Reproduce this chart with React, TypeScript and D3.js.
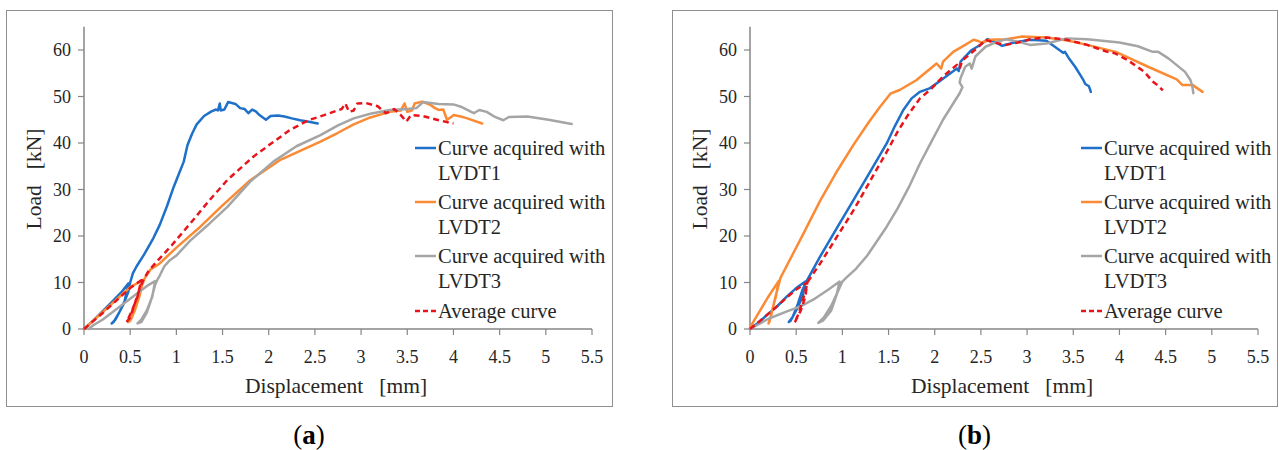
import React from "react";
import * as d3 from "d3";

type Pt = [number, number];

// ---------- Panel (a) data: [displacement mm, load kN] ----------
const aLVDT1: Pt[] = [[0,0],[0.1,1.8],[0.2,3.8],[0.3,5.8],[0.4,7.8],[0.48,9.8],[0.44,6],[0.38,3.5],[0.32,1.5],[0.3,1.2],[0.34,2],[0.42,5],[0.48,8],[0.5,10],[0.53,12],[0.57,13.5],[0.65,16],[0.75,19.5],[0.82,22.4],[0.9,26.5],[0.97,30.5],[1.03,33.5],[1.08,36],[1.12,39.5],[1.17,42],[1.22,44],[1.3,45.8],[1.38,46.8],[1.43,47.2],[1.45,47],[1.47,48.5],[1.48,47],[1.52,47.2],[1.56,48.8],[1.64,48.4],[1.69,47.5],[1.74,47.3],[1.78,46.4],[1.82,47.2],[1.86,46.8],[1.9,46],[1.97,45],[2.02,45.8],[2.1,45.9],[2.17,45.7],[2.25,45.3],[2.34,44.9],[2.45,44.5],[2.53,44.2]];
const aLVDT2: Pt[] = [[0,0],[0.1,1.8],[0.2,3.6],[0.3,5.4],[0.4,7.2],[0.5,9],[0.64,10.5],[0.6,7],[0.55,4],[0.5,1.8],[0.48,1.5],[0.52,2.5],[0.58,6],[0.63,9.5],[0.66,11],[0.72,12.8],[0.82,14.1],[1.0,17.5],[1.26,22],[1.5,26.6],[1.8,32],[2.12,36.3],[2.56,40.3],[2.75,42.2],[2.92,44],[3.1,45.5],[3.31,46.7],[3.43,47],[3.47,48.5],[3.5,46.7],[3.55,47],[3.58,48.5],[3.66,48.9],[3.75,48.2],[3.8,47.5],[3.84,47.1],[3.89,47.2],[3.93,45],[3.97,45.5],[4.0,46],[4.08,45.7],[4.15,45.3],[4.31,44.2]];
const aLVDT3: Pt[] = [[0.05,0],[0.1,0.8],[0.2,2],[0.3,3.5],[0.4,5],[0.5,6.5],[0.6,8],[0.7,9.5],[0.77,10.3],[0.74,7],[0.68,4],[0.62,2],[0.58,1.2],[0.62,1.5],[0.68,3.5],[0.73,6.5],[0.77,9.5],[0.8,10.8],[0.82,11.5],[0.87,13.5],[0.93,14.8],[1.0,15.8],[1.15,19],[1.36,22.7],[1.55,26.2],[1.8,31.7],[2.05,36],[2.3,39.3],[2.56,41.7],[2.75,43.8],[2.92,45.3],[3.1,46.3],[3.31,47.1],[3.5,47.3],[3.6,47.5],[3.67,48.8],[3.75,48.6],[3.84,48.4],[4.0,48.3],[4.08,47.8],[4.15,47.1],[4.22,46.4],[4.28,47.1],[4.36,46.7],[4.45,45.6],[4.54,44.9],[4.6,45.6],[4.8,45.7],[5.03,45],[5.28,44.1]];
const aAverage: Pt[] = [[0,0],[0.1,1.7],[0.2,3.4],[0.3,5.2],[0.4,7],[0.5,8.8],[0.62,10.5],[0.58,7],[0.52,4],[0.47,1.8],[0.46,1.5],[0.5,2.5],[0.55,5.5],[0.6,8.5],[0.64,10.5],[0.7,12.5],[0.82,15.2],[0.95,18],[1.18,23.4],[1.35,27.5],[1.55,32],[1.83,37],[2.0,39.5],[2.23,42.8],[2.43,44.9],[2.6,46],[2.7,46.7],[2.79,47.3],[2.83,48.5],[2.87,46.7],[2.92,47],[2.96,48.5],[3.05,48.6],[3.18,47.9],[3.27,46.4],[3.36,47.3],[3.43,46],[3.49,44.6],[3.54,46],[3.67,45.8],[3.84,44.9],[4.0,44.2]];

// ---------- Panel (b) data ----------
const bLVDT1: Pt[] = [[0,0],[0.1,1.5],[0.2,3.3],[0.3,5],[0.4,7],[0.5,8.8],[0.6,10.2],[0.57,7],[0.5,4],[0.44,1.8],[0.42,1.5],[0.46,2.5],[0.52,5.5],[0.57,8.5],[0.61,10.2],[0.76,15.6],[0.94,21.7],[1.12,27.7],[1.3,33.8],[1.48,39.9],[1.57,43.7],[1.66,47.1],[1.75,49.6],[1.84,51],[1.95,51.8],[2.1,54],[2.24,56],[2.26,55.5],[2.28,57.5],[2.33,58.6],[2.4,60],[2.46,60.7],[2.52,61.5],[2.57,62.3],[2.62,62],[2.68,61.4],[2.73,60.9],[2.8,61.3],[2.86,61.6],[3.03,62.2],[3.21,62],[3.3,60.7],[3.39,59.4],[3.41,59.6],[3.46,58],[3.52,56.4],[3.58,54.5],[3.61,53.5],[3.63,52.7],[3.67,52.2],[3.69,51]];
const bLVDT2: Pt[] = [[0,0.3],[0.05,2],[0.11,4],[0.2,7],[0.31,10.3],[0.28,7],[0.24,4],[0.21,1.5],[0.2,1.2],[0.23,3],[0.27,6.5],[0.31,9.5],[0.33,11],[0.45,15.6],[0.57,20.2],[0.76,27.6],[0.95,34.2],[1.12,39.6],[1.28,44.3],[1.4,47.6],[1.52,50.6],[1.62,51.4],[1.8,53.5],[2.02,57.1],[2.07,56],[2.09,57.5],[2.2,59.6],[2.33,61.1],[2.42,62.2],[2.46,62],[2.51,61.6],[2.6,62.2],[2.77,62.3],[2.95,62.9],[3.21,62.7],[3.45,62],[3.65,61.1],[3.96,59.6],[4.31,56.4],[4.62,53.7],[4.68,52.5],[4.79,52.5],[4.9,51]];
const bLVDT3: Pt[] = [[0,0],[0.2,2.2],[0.4,3.8],[0.54,4.8],[0.7,6.5],[0.85,8.5],[0.97,10.2],[0.94,7.5],[0.88,4],[0.79,1.8],[0.74,1.3],[0.8,2.5],[0.88,5],[0.95,8],[1.0,10.2],[1.04,11],[1.15,13],[1.27,15.8],[1.48,22],[1.6,26],[1.72,30.5],[1.84,35.6],[1.97,40.5],[2.09,45],[2.2,48.5],[2.27,50.7],[2.3,52],[2.27,53],[2.28,54],[2.33,56.4],[2.38,57.1],[2.4,56],[2.44,58.6],[2.55,60.7],[2.68,61.8],[2.77,62.3],[2.9,61.8],[3.03,61.1],[3.21,61.4],[3.43,62.5],[3.65,62.3],[4.0,61.6],[4.2,60.8],[4.36,59.6],[4.42,59.6],[4.53,58.2],[4.71,55.3],[4.77,53.5],[4.79,52.1],[4.8,50.7]];
const bAverage: Pt[] = [[0,0],[0.1,1.6],[0.2,3.3],[0.3,5],[0.4,6.8],[0.5,8.5],[0.62,10],[0.6,7],[0.55,4],[0.49,1.6],[0.48,1.3],[0.52,3],[0.57,6],[0.61,9],[0.63,10.3],[0.76,14.1],[0.94,19.8],[1.12,25.5],[1.3,31.8],[1.48,38.1],[1.6,42.5],[1.7,45.7],[1.84,49.6],[1.95,51.4],[2.1,54.5],[2.24,56.8],[2.27,56],[2.3,57.8],[2.46,60.4],[2.55,62.2],[2.64,61.6],[2.77,61.1],[2.9,61.6],[3.03,62.3],[3.21,62.7],[3.43,62.2],[3.65,61.1],[3.87,59.6],[3.95,59.3],[4.09,57.8],[4.27,55.3],[4.36,53.2],[4.42,52.3],[4.47,51.3]];

const xTicks = [0, 0.5, 1, 1.5, 2, 2.5, 3, 3.5, 4, 4.5, 5, 5.5];
const yTicks = [0, 10, 20, 30, 40, 50, 60];
const seriesNames = ["Curve acquired with|LVDT1", "Curve acquired with|LVDT2", "Curve acquired with|LVDT3", "Average curve"];
const seriesColors = ["#1f70c9", "#fb8a35", "#a5a5a5", "#e8141c"];
const panelLabels = ["a", "b"];

const FONT = "Liberation Serif, Times New Roman, serif";

interface PanelProps {
  ox: number;
  frameW: number;
  axisX: number;
  series: Pt[][];
  label: string;
}

function Panel({ ox, frameW, axisX, series, label }: PanelProps) {
  const x = d3.scaleLinear().domain([0, 5.5]).range([axisX, axisX + 508]);
  const y = d3.scaleLinear().domain([0, 65]).range([329, 329 - 65 * 4.65]);
  const line = d3.line<Pt>().x(d => x(d[0])).y(d => y(d[1])).curve(d3.curveLinear);
  const axisColor = "#868686";
  const legX = axisX + 331;
  const legYs = [148, 202, 256, 311];
  const titleCx = axisX + 252;
  const txt = { fontFamily: FONT, fill: "#262626" } as React.CSSProperties;
  return (
    <g>
      <rect x={ox + 0.5} y={10.5} width={frameW} height={396} fill="white" stroke="#8f8f8f" strokeWidth={1} />
      <line x1={axisX} x2={axisX} y1={y(65)} y2={y(0)} stroke={axisColor} strokeWidth={1.5} />
      <line x1={axisX} x2={x(5.5)} y1={y(0)} y2={y(0)} stroke={axisColor} strokeWidth={1.5} />
      {yTicks.map(t => (
        <g key={"y" + t}>
          <line x1={axisX - 6} x2={axisX} y1={y(t)} y2={y(t)} stroke={axisColor} strokeWidth={1.2} />
          <text x={axisX - 13} y={y(t)} dy="0.35em" textAnchor="end" style={{ ...txt, fontSize: 18 }}>{t}</text>
        </g>
      ))}
      {xTicks.map(t => (
        <g key={"x" + t}>
          <line x1={x(t)} x2={x(t)} y1={y(0)} y2={y(0) + 6} stroke={axisColor} strokeWidth={1.2} />
          <text x={x(t)} y={357} dy="0.35em" textAnchor="middle" style={{ ...txt, fontSize: 18 }}>{t}</text>
        </g>
      ))}
      <text x={titleCx} y={385} dy="0.35em" textAnchor="middle" style={{ ...txt, fontSize: 21.5, whiteSpace: "pre" }}>{"Displacement   [mm]"}</text>
      <text transform={`translate(${axisX - 51},${179}) rotate(-90)`} dy="0.35em" textAnchor="middle" style={{ ...txt, fontSize: 21.5, whiteSpace: "pre" }}>{"Load   [kN]"}</text>
      {series.map((s, i) => (
        <path key={i} d={line(s) || ""} fill="none" stroke={seriesColors[i]} strokeWidth={2.5}
          strokeLinejoin="round" strokeLinecap={i === 3 ? "butt" : "round"}
          strokeDasharray={i === 3 ? "6,4" : undefined} />
      ))}
      {seriesNames.map((n, i) => {
        const parts = n.split("|");
        return (
          <g key={"l" + i}>
            <line x1={legX} x2={legX + 21} y1={legYs[i]} y2={legYs[i]} stroke={seriesColors[i]} strokeWidth={2.5}
              strokeDasharray={i === 3 ? "5,3" : undefined} />
            {parts.map((p, j) => (
              <text key={j} x={legX + 23} y={legYs[i] + j * 25} dy="0.35em" style={{ ...txt, fontSize: 20.5 }}>{p}</text>
            ))}
          </g>
        );
      })}
      <text x={ox + frameW / 2} y={444} textAnchor="middle" style={{ fontFamily: FONT, fontSize: 27, fill: "#000" }}>
        (<tspan fontWeight="bold">{label}</tspan>)
      </text>
    </g>
  );
}

export default function App() {
  return (
    <svg width={1279} height={450} style={{ position: "absolute", left: 0, top: 0, background: "white" }}>
      <rect x={0} y={0} width={1279} height={450} fill="white" />
      <Panel ox={6} frameW={606} axisX={84} series={[aLVDT1, aLVDT2, aLVDT3, aAverage]} label={panelLabels[0]} />
      <Panel ox={672} frameW={605} axisX={750} series={[bLVDT1, bLVDT2, bLVDT3, bAverage]} label={panelLabels[1]} />
    </svg>
  );
}
